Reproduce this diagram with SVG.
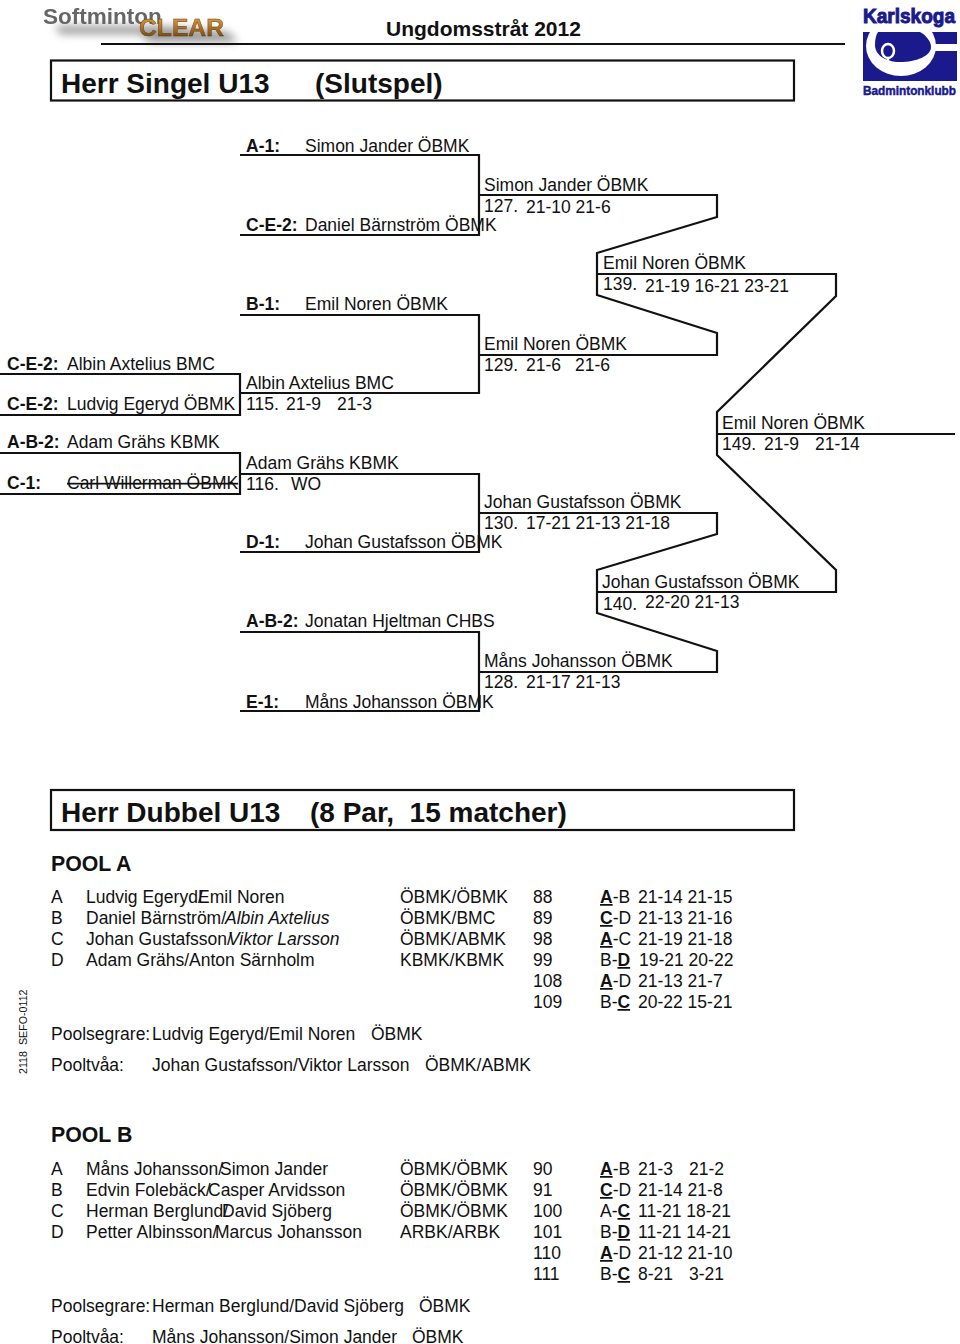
<svg xmlns="http://www.w3.org/2000/svg" width="960" height="1344" viewBox="0 0 960 1344">
<style>
text{font-family:"Liberation Sans",Arial,sans-serif;font-size:17.5px;fill:#111;white-space:pre}
.b{font-weight:bold}
.i{font-style:italic}
.t{font-weight:bold;font-size:28px}
.p{font-weight:bold;font-size:21.3px}
.l{fill:none;stroke:#111;stroke-width:2.2}
.u{font-weight:bold;text-decoration:underline}
.k{fill:#1a1a8c;stroke:#1a1a8c;font-weight:bold}
</style>
<defs>
<filter id="blur" x="-20%" y="-80%" width="140%" height="260%"><feGaussianBlur stdDeviation="4"/></filter>
<filter id="soft" x="-5%" y="-20%" width="110%" height="140%"><feGaussianBlur stdDeviation="0.5"/></filter>
<linearGradient id="gold" x1="0" y1="0" x2="0" y2="1"><stop offset="0" stop-color="#e8a848"/><stop offset="0.55" stop-color="#a86a20"/><stop offset="1" stop-color="#5a3a10"/></linearGradient>
<clipPath id="kbox"><rect x="863" y="32" width="94" height="49"/></clipPath>
</defs>
<rect width="960" height="1344" fill="#fff"/>
<g id="logo-softminton">
<path d="M55 26H160L228 32L238 42H150L140 34H60Z" fill="#999" filter="url(#blur)"/>
<text x="43" y="24" class="b" style="font-size:22.500px;fill:#666" filter="url(#soft)">Softminton</text>
<text x="139" y="36" class="b" style="font-size:23px;fill:url(#gold);stroke:#5a3a10;stroke-width:.4" textLength="85" lengthAdjust="spacingAndGlyphs" filter="url(#soft)">CLEAR</text>
</g>
<g id="logo-karlskoga">
<text x="863" y="23" class="k" style="font-size:21px;stroke-width:1" textLength="92" lengthAdjust="spacingAndGlyphs">Karlskoga</text>
<g clip-path="url(#kbox)">
<rect x="863" y="32" width="94" height="49" fill="#1a1a8c"/>
<ellipse cx="901" cy="46" rx="35" ry="30" fill="#fff"/>
<rect x="925" y="44" width="32" height="7" fill="#fff"/>
<path d="M878 32H920C927 36 931 42 931 47C931 56 916 62 900 62C884 62 875 54 875 45C875 39 876 35 878 32Z" fill="#1a1a8c"/>
</g>
<ellipse cx="888" cy="51" rx="6" ry="7" fill="none" stroke="#fff" stroke-width="2.500"/>
<path d="M888 58V64" stroke="#fff" stroke-width="2.500"/>
<text x="863" y="95" class="k" style="font-size:13px;stroke-width:.5" textLength="93" lengthAdjust="spacingAndGlyphs">Badmintonklubb</text>
</g>
<g id="header">
<text x="386" y="36" class="b" style="font-size:21px">Ungdomsstråt 2012</text>
<path class="l" d="M101 44H845"/>
<rect class="l" x="51" y="60.500" width="743" height="40"/>
<text x="61" y="92.500" class="t">Herr Singel U13</text>
<text x="315" y="92.500" class="t">(Slutspel)</text>
</g>
<g id="connectors">
<path class="l" d="M240 155H479V235H240"/>
<path class="l" d="M479 195H717V217L597 253V295L717 333V355H479"/>
<path class="l" d="M240 315H479V393H240"/>
<path class="l" d="M0 374H240V415H0"/>
<path class="l" d="M0 453H240V494H0"/>
<path class="l" d="M240 474H479V552H240"/>
<path class="l" d="M479 513H717V534L597 570V613L717 651V672H479"/>
<path class="l" d="M240 632H479V711H240"/>
<path class="l" d="M597 274H836V296L717 412V455L836 570V592H597"/>
<path class="l" d="M717 434H955"/>
</g>
<g id="bracket-text">
<text x="246" y="151.500" class="b">A-1:</text><text x="305" y="151.500">Simon Jander ÖBMK</text>
<text x="246" y="231" class="b">C-E-2:</text><text x="305" y="231">Daniel Bärnström ÖBMK</text>
<text x="246" y="310" class="b">B-1:</text><text x="305" y="310">Emil Noren ÖBMK</text>
<text x="7" y="370" class="b">C-E-2:</text><text x="67" y="370">Albin Axtelius BMC</text>
<text x="7" y="410" class="b">C-E-2:</text><text x="67" y="410">Ludvig Egeryd ÖBMK</text>
<text x="7" y="448" class="b">A-B-2:</text><text x="67" y="448">Adam Grähs KBMK</text>
<text x="7" y="489" class="b">C-1:</text><text x="67" y="489" style="text-decoration:line-through">Carl Willerman ÖBMK</text>
<text x="246" y="548" class="b">D-1:</text><text x="305" y="548">Johan Gustafsson ÖBMK</text>
<text x="246" y="627" class="b">A-B-2:</text><text x="305" y="627">Jonatan Hjeltman CHBS</text>
<text x="246" y="708" class="b">E-1:</text><text x="305" y="708">Måns Johansson ÖBMK</text>
<text x="484" y="191">Simon Jander ÖBMK</text><text x="484" y="212">127.</text><text x="526" y="213">21-10 21-6</text>
<text x="484" y="350">Emil Noren ÖBMK</text><text x="484" y="371">129.</text><text x="526" y="371">21-6</text><text x="575" y="371">21-6</text>
<text x="246" y="389">Albin Axtelius BMC</text><text x="246" y="410">115.</text><text x="286" y="410">21-9</text><text x="337" y="410">21-3</text>
<text x="246" y="469">Adam Grähs KBMK</text><text x="246" y="490">116.</text><text x="291" y="490">WO</text>
<text x="484" y="508">Johan Gustafsson ÖBMK</text><text x="484" y="529">130.</text><text x="526" y="529">17-21 21-13 21-18</text>
<text x="484" y="667">Måns Johansson ÖBMK</text><text x="484" y="688">128.</text><text x="526" y="688">21-17 21-13</text>
<text x="603" y="269">Emil Noren ÖBMK</text><text x="603" y="290">139.</text><text x="645" y="292">21-19 16-21 23-21</text>
<text x="602" y="588">Johan Gustafsson ÖBMK</text><text x="603" y="610">140.</text><text x="645" y="608">22-20 21-13</text>
<text x="722" y="429">Emil Noren ÖBMK</text><text x="722" y="450">149.</text><text x="764" y="450">21-9</text><text x="815" y="450">21-14</text>
</g>
<g id="header-2">
<rect class="l" x="51" y="790" width="743" height="40"/>
<text x="61" y="821.500" class="t">Herr Dubbel U13</text>
<text x="310" y="821.500" class="t">(8 Par,  15 matcher)</text>
<text x="51" y="871" class="p">POOL A</text>
<text transform="translate(27 1074) rotate(-90)" style="font-size:10.700px">2118  SEFO-0112</text>
</g>
<g id="pool-a">
<text x="51" y="903">A</text><text x="86" y="903">Ludvig Egeryd/</text><text x="198" y="903">Emil Noren</text><text x="400" y="903">ÖBMK/ÖBMK</text><text x="533" y="903">88</text>
<text x="600" y="903"><tspan class="u">A</tspan>-B</text><text x="638" y="903">21-14 21-15</text>
<text x="51" y="924">B</text><text x="86" y="924">Daniel Bärnström/</text><text x="225" y="924" class="i">Albin Axtelius</text><text x="400" y="924">ÖBMK/BMC</text><text x="533" y="924">89</text>
<text x="600" y="924"><tspan class="u">C</tspan>-D</text><text x="638" y="924">21-13 21-16</text>
<text x="51" y="945">C</text><text x="86" y="945">Johan Gustafsson/</text><text x="228" y="945" class="i">Viktor Larsson</text><text x="400" y="945">ÖBMK/ABMK</text><text x="533" y="945">98</text>
<text x="600" y="945"><tspan class="u">A</tspan>-C</text><text x="638" y="945">21-19 21-18</text>
<text x="51" y="966">D</text><text x="86" y="966">Adam Grähs/Anton Särnholm</text><text x="400" y="966">KBMK/KBMK</text><text x="533" y="966">99</text>
<text x="600" y="966">B-<tspan class="u">D</tspan></text><text x="639" y="966">19-21 20-22</text>
<text x="533" y="987">108</text><text x="600" y="987"><tspan class="u">A</tspan>-D</text><text x="638" y="987">21-13 21-7</text>
<text x="533" y="1008">109</text><text x="600" y="1008">B-<tspan class="u">C</tspan></text><text x="638" y="1008">20-22 15-21</text>
<text x="51" y="1040">Poolsegrare:</text><text x="152" y="1040">Ludvig Egeryd/Emil Noren</text><text x="371" y="1040">ÖBMK</text>
<text x="51" y="1071">Pooltvåa:</text><text x="152" y="1071">Johan Gustafsson/Viktor Larsson</text><text x="425" y="1071">ÖBMK/ABMK</text>
</g>
<g id="pool-b">
<text x="51" y="1142" class="p">POOL B</text>
<text x="51" y="1175">A</text><text x="86" y="1175">Måns Johansson/</text><text x="220" y="1175">Simon Jander</text><text x="400" y="1175">ÖBMK/ÖBMK</text><text x="533" y="1175">90</text>
<text x="600" y="1175"><tspan class="u">A</tspan>-B</text><text x="638" y="1175">21-3</text><text x="689" y="1175">21-2</text>
<text x="51" y="1196">B</text><text x="86" y="1196">Edvin Folebäck/</text><text x="208" y="1196">Casper Arvidsson</text><text x="400" y="1196">ÖBMK/ÖBMK</text><text x="533" y="1196">91</text>
<text x="600" y="1196"><tspan class="u">C</tspan>-D</text><text x="638" y="1196">21-14 21-8</text>
<text x="51" y="1217">C</text><text x="86" y="1217">Herman Berglund/</text><text x="222" y="1217">David Sjöberg</text><text x="400" y="1217">ÖBMK/ÖBMK</text><text x="533" y="1217">100</text>
<text x="600" y="1217">A-<tspan class="u">C</tspan></text><text x="638" y="1217">11-21 18-21</text>
<text x="51" y="1238">D</text><text x="86" y="1238">Petter Albinsson/</text><text x="215" y="1238">Marcus Johansson</text><text x="400" y="1238">ARBK/ARBK</text><text x="533" y="1238">101</text>
<text x="600" y="1238">B-<tspan class="u">D</tspan></text><text x="638" y="1238">11-21 14-21</text>
<text x="533" y="1259">110</text><text x="600" y="1259"><tspan class="u">A</tspan>-D</text><text x="638" y="1259">21-12 21-10</text>
<text x="533" y="1280">111</text><text x="600" y="1280">B-<tspan class="u">C</tspan></text><text x="638" y="1280">8-21</text><text x="689" y="1280">3-21</text>
<text x="51" y="1312">Poolsegrare:</text><text x="152" y="1312">Herman Berglund/David Sjöberg</text><text x="419" y="1312">ÖBMK</text>
<text x="51" y="1343">Pooltvåa:</text><text x="152" y="1343">Måns Johansson/Simon Jander</text><text x="412" y="1343">ÖBMK</text>
</g>
</svg>
